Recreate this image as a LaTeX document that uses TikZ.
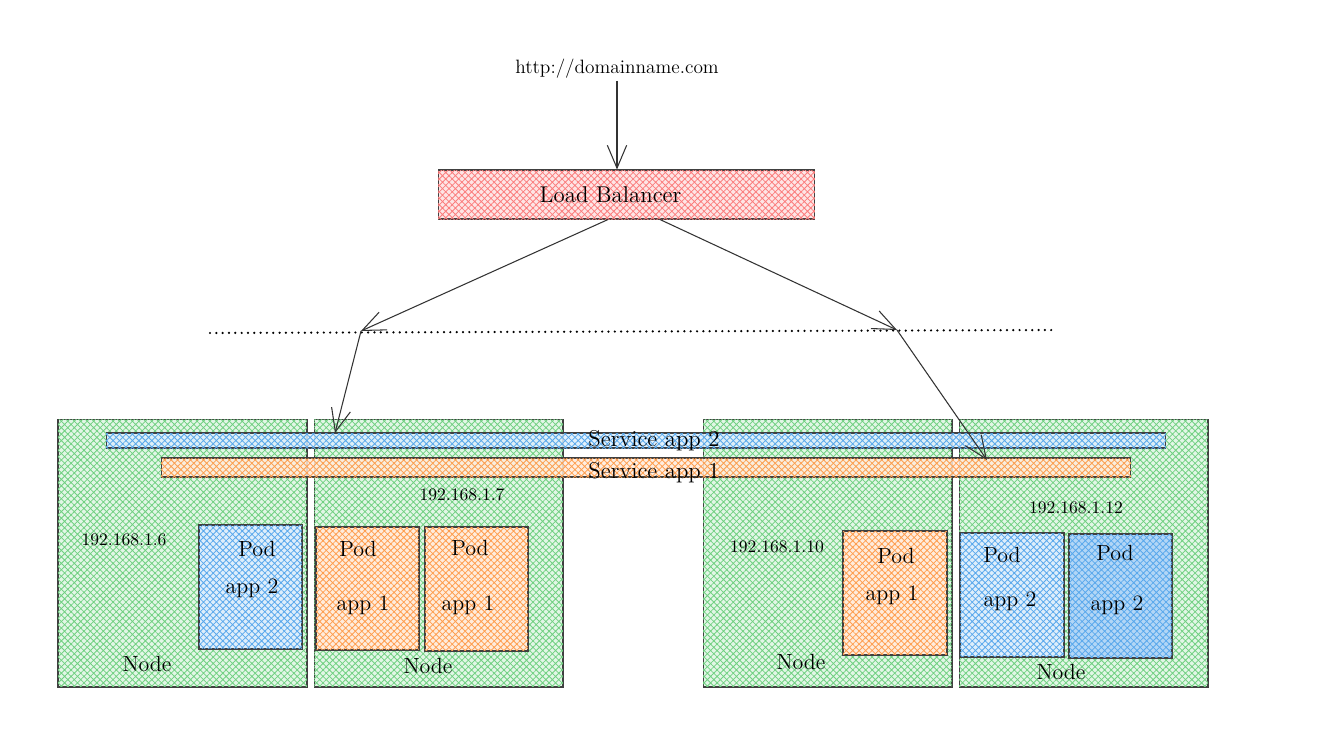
\documentclass[tikz,border=0pt]{standalone}
\usepackage{tikz}
\usetikzlibrary{arrows.meta,patterns.meta}
\definecolor{hgreen}{HTML}{40C057}
\definecolor{hblue}{HTML}{228BE6}
\definecolor{horange}{HTML}{FD7E14}
\definecolor{hred}{HTML}{FA5252}
\tikzset{
  hatched/.style = {draw=black!75, line width=0.6pt, fill=#1!15,
    postaction={pattern={Hatch[distance=2.6pt, angle=45, line width=0.45pt]},
      pattern color=#1!75}},% excalidraw cross-hatch
  box/.style 2 args = {rectangle, inner sep=0pt, minimum width=#1,
    minimum height=#2},
  lbl/.style = {inner sep=1pt, font=\fontsize{12.5}{14}\selectfont},
  big/.style = {inner sep=1pt, font=\fontsize{13}{15}\selectfont},
  ip/.style = {inner sep=1pt, font=\fontsize{10}{12}\selectfont},
  arrow/.style = {draw=black!80, line width=0.6pt,
    -{Straight Barb[length=13pt, width=11pt]}}
}

\begin{document}
\begin{tikzpicture}[x=0.02cm, y=-0.02cm]
    \useasboundingbox[fill=white] (0,0) rectangle (1326,741);

    % entry point and load balancer
    \node[ip, font=\fontsize{11}{13}\selectfont] (url) at (617,69) {http://domainname.com};
    \node[hatched=hred, box={7.54cm}{0.98cm},
      label={[big, xshift=-0.32cm]center:Load Balancer}] (lb) at (626.5,194.5) {};

    % cluster nodes
    \node[hatched=hgreen, box={4.98cm}{5.36cm}] (node1) at (182.5,553) {};
    \node[hatched=hgreen, box={4.98cm}{5.36cm}] (node2) at (438.5,553) {};
    \node[hatched=hgreen, box={4.98cm}{5.36cm}] (node3) at (827.5,553) {};
    \node[hatched=hgreen, box={4.98cm}{5.36cm}] (node4) at (1083.5,553) {};

    % services
    \node[hatched=hblue, box={21.2cm}{0.3cm}, fill opacity=0.85] (svc2) at (636,440.5) {};
    \node[hatched=horange, box={19.4cm}{0.38cm}, fill opacity=0.85] (svc1) at (646,467.5) {};
    \node[big] (svc2txt) at (654,441) {Service app 2};
    \node[big] (svc1txt) at (654,473) {Service app 1};

    % addresses
    \node[ip] (ip1) at (124,540) {192.168.1.6};
    \node[ip] (ip2) at (462,495) {192.168.1.7};
    \node[ip] (ip3) at (777,547) {192.168.1.10};
    \node[ip] (ip4) at (1076,508) {192.168.1.12};

    % pods
    \node[hatched=hblue, box={2.06cm}{2.48cm}] (pod1) at (250.5,587) {};
    \node[hatched=horange, box={2.06cm}{2.46cm}] (pod2) at (367.5,588.5) {};
    \node[hatched=horange, box={2.06cm}{2.48cm}] (pod3) at (476.5,589) {};
    \node[hatched=horange, box={2.08cm}{2.48cm}] (pod4) at (895,593) {};
    \node[hatched=hblue, box={2.08cm}{2.48cm}] (pod5) at (1012,595) {};
    \node[hatched=hblue, box={2.06cm}{2.48cm}, fill=hblue!35] (pod6) at (1120.5,596) {};
    \node[lbl] (pod1a) at (257,549) {Pod};
    \node[lbl] (pod1b) at (252,588) {app 2};
    \node[lbl] (pod2a) at (358,549) {Pod};
    \node[lbl] (pod2b) at (363,605) {app 1};
    \node[lbl] (pod3a) at (470,548) {Pod};
    \node[lbl] (pod3b) at (468,605) {app 1};
    \node[lbl] (pod4a) at (896,556) {Pod};
    \node[lbl] (pod4b) at (892,595) {app 1};
    \node[lbl] (pod5a) at (1002,555) {Pod};
    \node[lbl] (pod5b) at (1010,601) {app 2};
    \node[lbl] (pod6a) at (1115,553) {Pod};
    \node[lbl] (pod6b) at (1117,605) {app 2};

    % node captions
    \node[lbl] (cap1) at (147,664) {Node};
    \node[lbl] (cap2) at (428,666) {Node};
    \node[lbl] (cap3) at (801,662) {Node};
    \node[lbl] (cap4) at (1061,672) {Node};

    % ingress line
    \coordinate (dotl) at (210,333);
    \coordinate (dotr) at (1052,330);
    \coordinate (dl) at (361,331);
    \coordinate (dr) at (897,330);
    \coordinate (hitl) at (335,433);
    \coordinate (hitr) at (987,460);
    \draw[line width=1.4pt, line cap=round, dash pattern=on 0pt off 3.6pt] (dotl) -- (dotr);

    % traffic
    \draw[arrow] (url.south) -- (url.south |- lb.north);
    \draw[arrow] ([xshift=-0.37cm]lb.south) -- (dl);
    \draw[arrow] ([xshift=0.67cm]lb.south) -- (dr);
    \draw[arrow] (dl) -- (hitl);
    \draw[arrow] (dr) -- (hitr);
\end{tikzpicture}
\end{document}
